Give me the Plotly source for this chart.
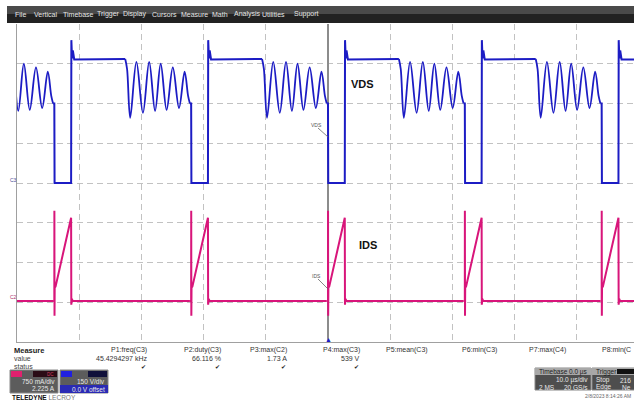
import plotly.graph_objects as go

# ---------------- data ----------------
# falling edges of VDS (µs, trigger at 0); first one is off-screen to the left
fall_times_us = [-66.0, -44.0, -22.0, 0.0, 22.0, 44.0]

# VDS: edges / plateau, offsets (µs) from each falling edge, volts
vds_edge_dt = [-0.20, 0.00, 0.04, 2.70, 2.74, 2.85, 2.98, 3.20, 11.40]
vds_edge_v = [300, 300, 0, 0, 539, 470, 500, 466, 468]
# VDS: resonant ringing after demagnetisation (peaks / troughs)
vds_ring_dt = [11.40, 11.70, 12.20, 13.20, 14.25, 15.25, 16.20, 17.10, 18.05, 19.05, 20.05, 20.95, 21.50, 21.80]
vds_ring_v = [468, 430, 246, 457, 265, 457, 272, 450, 276, 436, 283, 420, 330, 300]

# IDS: offsets (µs) from each VDS falling edge, amps
ids_dt = [-0.20, 0.00, 0.01, 0.03, 0.06, 0.20, 2.70, 2.73, 2.82, 2.95, 21.80]
ids_a = [0.00, 0.00, 1.70, -0.28, 0.25, 0.27, 1.57, -0.07, 0.04, 0.00, 0.00]

# scope settings
x_range_us = [-50.0, 49.2]
vds_per_div = 150.0      # V/div
ids_per_div = 0.75       # A/div
ids_offset = 2.225       # A

# measurement table
meas_names = ["P1:freq(C3)", "P2:duty(C3)", "P3:max(C2)", "P4:max(C3)",
              "P5:mean(C3)", "P6:min(C3)", "P7:max(C4)", "P8:min(C"]
meas_values = ["45.4294297 kHz", "66.116 %", "1.73 A", "539 V", "", "", "", ""]
menu_items = ["File", "Vertical", "Timebase", "Trigger", "Display", "Cursors",
              "Measure", "Math", "Analysis", "Utilities", "Support"]

# ---------------- build traces ----------------
def build(dts, vals):
    xs, ys = [], []
    for f in fall_times_us:
        for d, v in zip(dts, vals):
            xs.append(f + d)
            ys.append(v)
        xs.append(None)
        ys.append(None)
    return xs, ys

BLUE = "#1c1cc4"
PINK = "#d8157a"

vx, vy = build(vds_edge_dt, vds_edge_v)
rx, ry = build(vds_ring_dt, vds_ring_v)
ix, iy = build(ids_dt, ids_a)

fig = go.Figure()
fig.add_trace(go.Scatter(x=vx, y=vy, mode="lines", line=dict(color=BLUE, width=2),
                         hoverinfo="skip", showlegend=False))
fig.add_trace(go.Scatter(x=rx, y=ry, mode="lines", line=dict(color=BLUE, width=1.8, shape="spline", smoothing=1.0),
                         hoverinfo="skip", showlegend=False))
fig.add_trace(go.Scatter(x=ix, y=iy, mode="lines", line=dict(color=PINK, width=2),
                         yaxis="y2", hoverinfo="skip", showlegend=False))

# y ranges: 8 divisions; IDS ground sits g divisions below centre
vds_range = [-4 * vds_per_div, 4 * vds_per_div]
g = ids_offset / ids_per_div
ids_range = [(-4 + g) * ids_per_div, (4 + g) * ids_per_div]

W, H = 634, 400
L, R, T, B = 17, 0, 24, 58
PW, PH = W - L - R, H - T - B


def PX(x):
    return (x - L) / PW


def PY(y):
    return (H - B - y) / PH


GRID = "#c2c2c2"
fig.update_layout(
    width=W, height=H,
    margin=dict(l=L, r=R, t=T, b=B),
    paper_bgcolor="white", plot_bgcolor="white",
    font=dict(family="Liberation Sans, Arial", size=7, color="#333333"),
    xaxis=dict(range=x_range_us, dtick=10, tick0=0, showgrid=True, gridcolor=GRID,
               griddash="6px,4px", gridwidth=1, zeroline=True, zerolinecolor="#8c8c8c",
               zerolinewidth=1.5, showline=True, linecolor="#a0a0a0", linewidth=1,
               showticklabels=False, ticks="", fixedrange=True),
    yaxis=dict(range=vds_range, dtick=vds_per_div, tick0=0, showgrid=True, gridcolor=GRID,
               griddash="6px,4px", gridwidth=1, zeroline=False, showline=True,
               linecolor="#a0a0a0", linewidth=1, showticklabels=False, ticks="", fixedrange=True),
    yaxis2=dict(range=ids_range, overlaying="y", visible=False, fixedrange=True),
)

shapes = []
annots = []


def rect(x0, y0, x1, y1, fill, line=None):
    shapes.append(dict(type="rect", xref="paper", yref="paper", x0=PX(x0), x1=PX(x1),
                       y0=PY(y1), y1=PY(y0), fillcolor=fill,
                       line=dict(width=1 if line else 0, color=line or fill), layer="above"))


def text(x, y, s, size=7, color="#333333", anchor="left", bold=False, family=None):
    annots.append(dict(xref="paper", yref="paper", x=PX(x), y=PY(y), text=("<b>%s</b>" % s) if bold else s,
                       showarrow=False, xanchor=anchor, yanchor="middle",
                       font=dict(size=size, color=color, family=family or "Liberation Sans, Arial")))


# menu bar
rect(7, 6, 634, 14, "#4a4a4a")
rect(7, 14, 634, 23, "#222222")
menu_x = [13, 32, 61, 95, 121, 150, 179, 210, 232, 260, 292]
for name, mx in zip(menu_items, menu_x):
    text(mx, 14.5, name, size=7, color="#e6e6e6")

# channel labels on the grid
text(362, 84, "VDS", size=11, color="#111111", anchor="center", bold=True)
text(368, 245, "IDS", size=11, color="#111111", anchor="center", bold=True)
text(316, 125, "VDS", size=5, color="#555555", anchor="center")
text(316, 276, "IDS", size=5, color="#555555", anchor="center")
for (x0, y0, x1, y1) in [(318, 128, 328, 137), (318, 279, 328, 289)]:
    shapes.append(dict(type="line", xref="paper", yref="paper", x0=PX(x0), y0=PY(y0),
                       x1=PX(x1), y1=PY(y1), line=dict(color="#666666", width=0.8)))
# ground markers
text(13, 180, "C3", size=5, color="#4a4a9a", anchor="center")
text(13, 297, "C2", size=5, color="#b03070", anchor="center")
# trigger position marker
text(328, 339, "▲", size=7, color=BLUE, anchor="center")

# measurement table
text(12, 350, "Measure", size=7.5, color="#222222", bold=True)
text(12, 358, "value", size=7, color="#444444")
text(12, 366, "status", size=7, color="#444444")
meas_right = [149, 223, 289, 362, 430, 499, 568, 633]
for name, val, xr in zip(meas_names, meas_values, meas_right):
    text(xr, 350, name, size=7, color="#333333", anchor="right")
    if val:
        text(xr, 358, val, size=7, color="#333333", anchor="right")
        text(xr - 1, 366, "✔", size=6, color="#222222", anchor="right", family="DejaVu Sans")

# channel boxes
rect(10, 370, 58, 393, "#5c5c5c", "#888888")
rect(11, 371, 22, 377, "#e0206e")
rect(33, 371, 57, 377, "#2a0c16")
text(50, 374, "DC", size=4.5, color="#d04060", anchor="center")
text(57, 381.5, "750 mA/div", size=6.5, color="#e8e8e8", anchor="right")
text(57, 388.5, "2.225 A", size=6.5, color="#e8e8e8", anchor="right")

rect(60, 370, 108, 393, "#5c5c5c", "#888888")
rect(61, 371, 72, 377, "#2020e0")
rect(88, 371, 107, 377, "#10103a")
rect(60, 385, 108, 393, "#2a2ab4")
text(107, 381, "150 V/div", size=6.5, color="#e8e8e8", anchor="right")
text(107, 389, "0.0 V offset", size=6.5, color="#e8e8e8", anchor="right")

text(10, 397.5, "<b>TELEDYNE</b> <span style='color:#777'>LECROY</span>", size=6.5, color="#111111")

# timebase / trigger boxes
rect(535, 368, 591, 390, "#4e4e4e", "#888888")
rect(535, 368, 591, 375, "#a8a8a8")
text(537, 371.5, "Timebase", size=6.5, color="#222222")
text(590, 371.5, "0.0 µs", size=6.5, color="#222222", anchor="right")
text(590, 380, "10.0 µs/div", size=6.5, color="#e8e8e8", anchor="right")
text(537, 387, "2 MS", size=6.5, color="#e8e8e8")
text(590, 387, "20 GS/s", size=6.5, color="#e8e8e8", anchor="right")

rect(592, 368, 640, 390, "#4e4e4e", "#888888")
rect(592, 368, 640, 375, "#a8a8a8")
rect(617, 369, 640, 374, "#111111")
text(594, 371.5, "Trigger", size=6.5, color="#222222")
text(594, 380, "Stop", size=6.5, color="#e8e8e8")
text(633, 380, "216", size=6.5, color="#e8e8e8", anchor="right")
text(594, 387, "Edge", size=6.5, color="#e8e8e8")
text(633, 387, "Ne", size=6.5, color="#e8e8e8", anchor="right")
text(583, 396.5, "2/8/2023 8:14:26 AM", size=5, color="#666666")

fig.update_layout(shapes=shapes, annotations=annots)
fig.write_html("out.html", config={"displayModeBar": False, "staticPlot": True},
               post_script="document.body.style.margin='0';document.body.style.overflow='hidden';")
